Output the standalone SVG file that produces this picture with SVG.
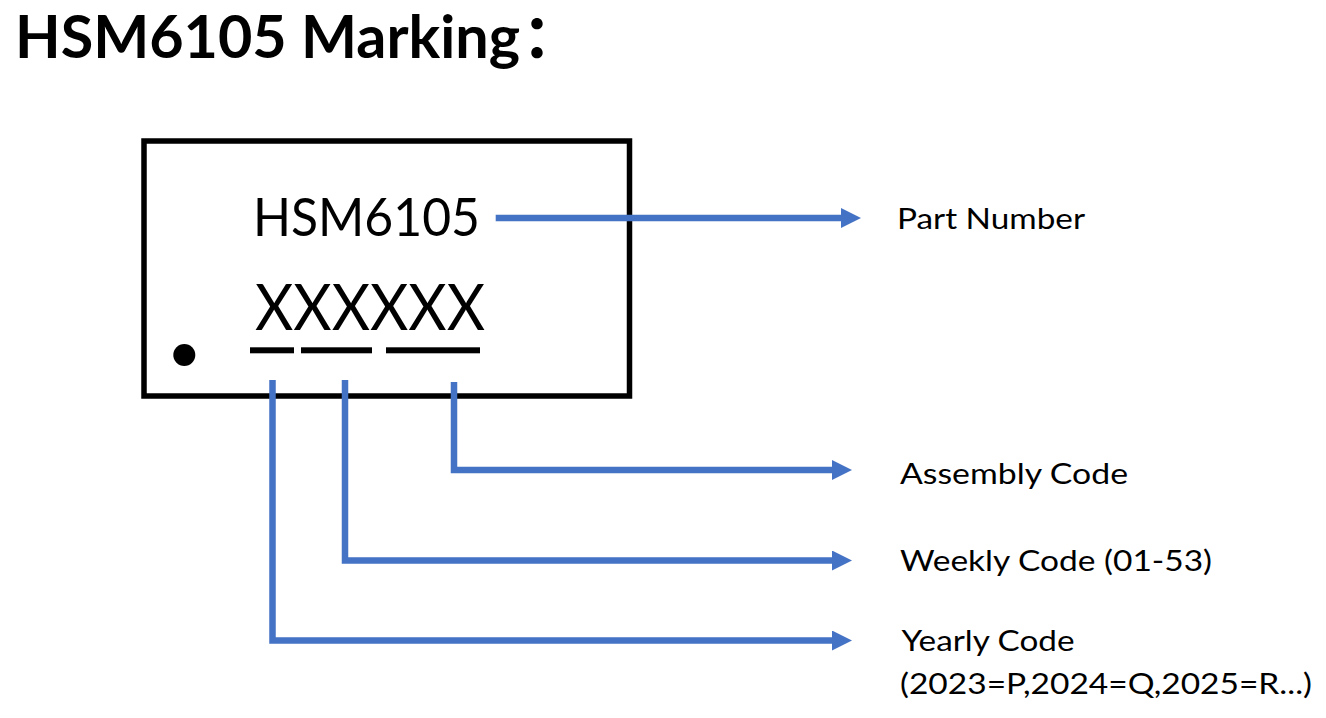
<svg xmlns="http://www.w3.org/2000/svg" width="1326" height="718" viewBox="0 0 1326 718">
<style>
.t{font-family:Lato,"Noto Sans","Liberation Sans",sans-serif;fill:#000}
.title{font-weight:bold;font-size:60px}
.lbl{font-size:29px}
.con{fill:none;stroke:#4472C4;stroke-width:6.5;stroke-linejoin:miter;stroke-linecap:butt}
</style>
<defs>
<marker id="arr" viewBox="0 0 20 20" refX="0" refY="10" markerWidth="20" markerHeight="20" markerUnits="userSpaceOnUse" orient="auto">
<path d="M0,0 L20,10 L0,20 z" fill="#4472C4"/>
</marker>
</defs>
<rect width="1326" height="718" fill="#fff"/>
<g id="title">
<text class="t title" y="58.3"><tspan x="15" textLength="505" lengthAdjust="spacingAndGlyphs">HSM6105 Marking</tspan><tspan x="522" font-family="'Noto Sans CJK SC',sans-serif">：</tspan></text>
</g>
<g id="chip">
<rect x="144" y="141" width="485.5" height="255" fill="#fff" stroke="#000" stroke-width="5.5"/>
<circle cx="184.3" cy="355" r="11" fill="#000"/>
<text class="t" x="253" y="236" font-size="53" textLength="227" lengthAdjust="spacingAndGlyphs">HSM6105</text>
<text class="t" x="255" y="330" font-size="64" textLength="230" lengthAdjust="spacingAndGlyphs">XXXXXX</text>
<rect x="250" y="347.3" width="44" height="6" fill="#000"/>
<rect x="301" y="347.3" width="71" height="6" fill="#000"/>
<rect x="386" y="347.3" width="94" height="6" fill="#000"/>
</g>
<g id="connectors">
<path class="con" d="M495.7,218 H841" marker-end="url(#arr)"/>
<path class="con" d="M454,382 V470 H832" marker-end="url(#arr)"/>
<path class="con" d="M345,380 V560.5 H832" marker-end="url(#arr)"/>
<path class="con" d="M272.5,380 V640.5 H832" marker-end="url(#arr)"/>
</g>
<g id="label-part">
<text class="t lbl" x="897" y="229.3" textLength="188" lengthAdjust="spacingAndGlyphs">Part Number</text>
</g>
<g id="label-assembly">
<text class="t lbl" x="900" y="484" textLength="228" lengthAdjust="spacingAndGlyphs">Assembly Code</text>
</g>
<g id="label-weekly">
<text class="t lbl" x="900" y="571" textLength="312" lengthAdjust="spacingAndGlyphs">Weekly Code (01-53)</text>
</g>
<g id="label-yearly">
<text class="t lbl" x="901.5" y="651" textLength="173" lengthAdjust="spacingAndGlyphs">Yearly Code</text>
<text class="t lbl" x="900" y="694.3" textLength="412" lengthAdjust="spacingAndGlyphs">(2023=P,2024=Q,2025=R...)</text>
</g>
</svg>
